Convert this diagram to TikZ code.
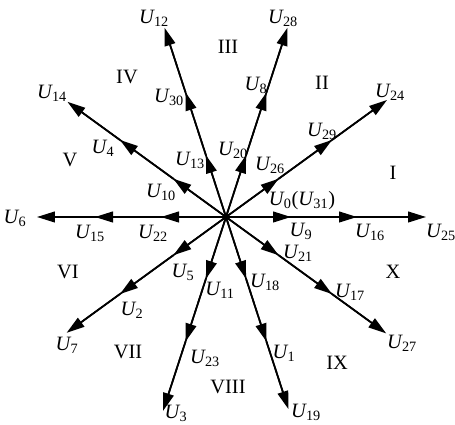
\documentclass[tikz,border=0pt]{standalone}
\usepackage{fontspec}
\setmainfont{Liberation Serif}
\usepackage{tikz}
\usetikzlibrary{arrows.meta}
\newcommand{\vU}[1]{\textit{U}\kern-0.6pt\textsubscript{#1}}
\tikzset{
  % voltage vector segment
  vec/.style={line width=1.2pt, -{Triangle[length=4.5mm,width=2.7mm]}},
  % plain ray under the segments
  ray/.style={line width=1.2pt},
  % vector label
  vlab/.style={font=\fontsize{14.5}{16}\selectfont, inner sep=0pt},
  % sector numeral
  seclab/.style={font=\fontsize{14.5}{16}\selectfont, inner sep=0pt},
}
\begin{document}
\begin{tikzpicture}[x=0.25mm, y=0.25mm]
  \useasboundingbox (-226,-208) rectangle (229,217);
  \coordinate (O) at (0,0);
  % ten rays, three vectors each
  \foreach \a/\r [count=\i] in {0/200,36/199,72/199,108/199,144/196,180/189,216/197,252/204,288/202,324/198}{
    \coordinate (p\i a) at (\a:65);
    \coordinate (p\i b) at (\a:131);
    \coordinate (p\i c) at (\a:\r);
    \coordinate (p\i d) at (\a:\r-8);
    \draw[ray] (O) -- (p\i d);
    \draw[vec] (O) -- (p\i a);
    \draw[vec] (p\i a) -- (p\i b);
    \draw[vec] (p\i b) -- (p\i c);
  }
  % outer vector labels
  \node[vlab] (u25) at (215,-15) {\vU{25}};
  \node[vlab] (u24) at (164,125) {\vU{24}};
  \node[vlab] (u28) at (57,199) {\vU{28}};
  \node[vlab] (u12) at (-72,199) {\vU{12}};
  \node[vlab] (u14) at (-174,124) {\vU{14}};
  \node[vlab] (u6) at (-211,-1) {\vU{6}};
  \node[vlab] (u7) at (-159,-128) {\vU{7}};
  \node[vlab] (u3) at (-50,-196) {\vU{3}};
  \node[vlab] (u19) at (80,-195) {\vU{19}};
  \node[vlab] (u27) at (176,-126) {\vU{27}};
  % inner vector labels
  \node[vlab] (u0) at (76,16) {\vU{0}(\vU{31})};
  \node[vlab] (u9) at (75,-14) {\vU{9}};
  \node[vlab] (u16) at (144,-15) {\vU{16}};
  \node[vlab] (u26) at (44,52) {\vU{26}};
  \node[vlab] (u29) at (96,86) {\vU{29}};
  \node[vlab] (u20) at (7,67) {\vU{20}};
  \node[vlab] (u8) at (30,132) {\vU{8}};
  \node[vlab] (u13) at (-36,57) {\vU{13}};
  \node[vlab] (u30) at (-57,120) {\vU{30}};
  \node[vlab] (u10) at (-65,25) {\vU{10}};
  \node[vlab] (u4) at (-123,69) {\vU{4}};
  \node[vlab] (u22) at (-73,-16) {\vU{22}};
  \node[vlab] (u15) at (-136,-16) {\vU{15}};
  \node[vlab] (u5) at (-43,-55) {\vU{5}};
  \node[vlab] (u2) at (-94,-93) {\vU{2}};
  \node[vlab] (u11) at (-6,-73) {\vU{11}};
  \node[vlab] (u23) at (-21,-141) {\vU{23}};
  \node[vlab] (u18) at (39,-65) {\vU{18}};
  \node[vlab] (u1) at (58,-136) {\vU{1}};
  \node[vlab] (u21) at (72,-36) {\vU{21}};
  \node[vlab] (u17) at (124,-75) {\vU{17}};
  % sectors
  \node[seclab] (s1) at (167,44) {I};
  \node[seclab] (s2) at (96,134) {II};
  \node[seclab] (s3) at (2,170) {III};
  \node[seclab] (s4) at (-99,140) {IV};
  \node[seclab] (s5) at (-156,57) {V};
  \node[seclab] (s6) at (-158,-55) {VI};
  \node[seclab] (s7) at (-98,-135) {VII};
  \node[seclab] (s8) at (2,-170) {VIII};
  \node[seclab] (s9) at (111,-146) {IX};
  \node[seclab] (s10) at (167,-55) {X};
\end{tikzpicture}
\end{document}
